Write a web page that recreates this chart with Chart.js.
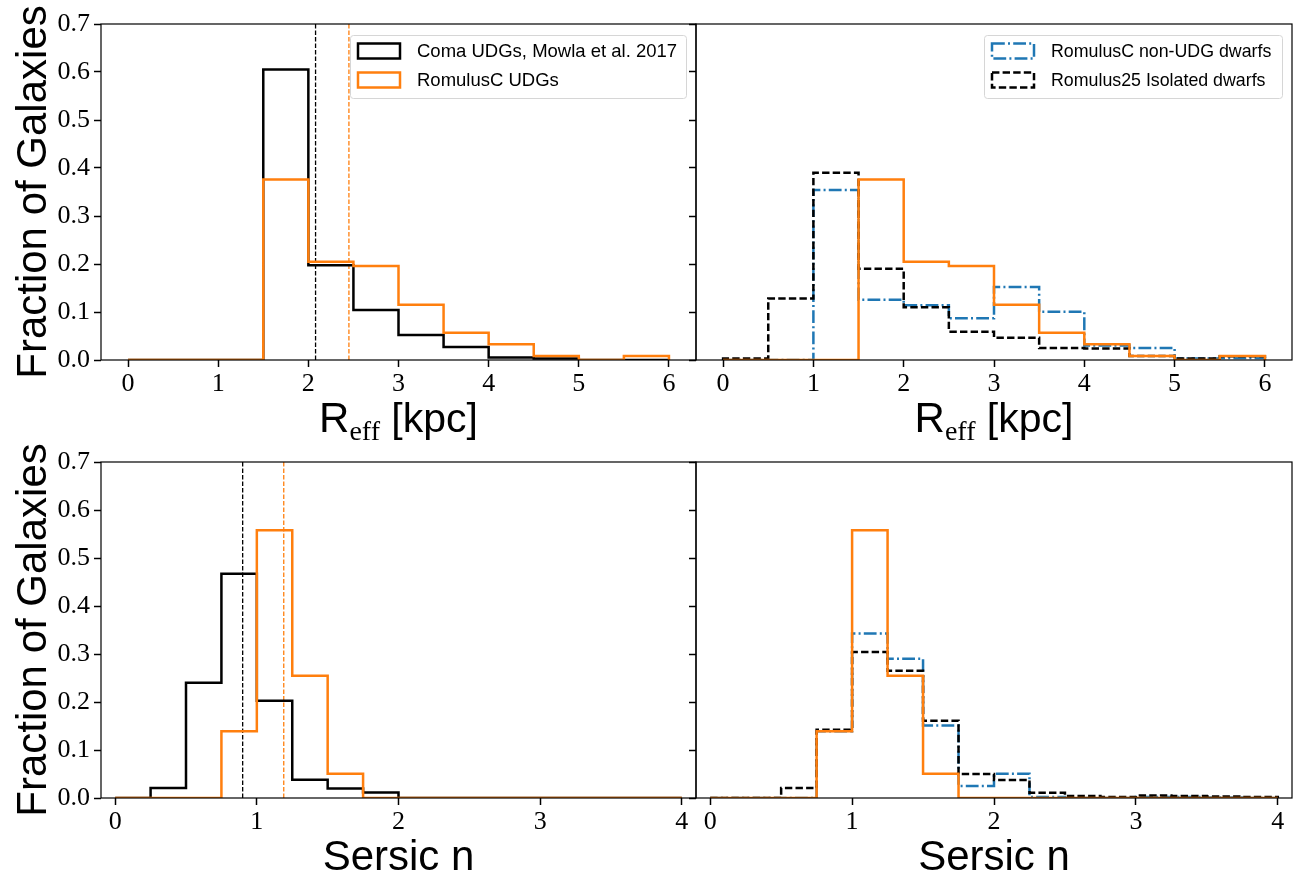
<!DOCTYPE html>
<html>
<head>
<meta charset="utf-8">
<script src="https://cdn.jsdelivr.net/npm/chart.js@4.4.1/dist/chart.umd.min.js"></script>
<style>
    html, body { margin: 0; padding: 0; background: #fff; }
    #wrap { position: relative; width: 1293px; height: 875px; }
    #wrap canvas { position: absolute; left: 0; top: 0; }
</style>
</head>
<body>
<div id="wrap">
    <canvas id="reff-udg" width="1293" height="875"></canvas>
    <canvas id="reff-dwarf" width="1293" height="875"></canvas>
    <canvas id="sersic-udg" width="1293" height="875"></canvas>
    <canvas id="sersic-dwarf" width="1293" height="875"></canvas>
</div>
<script>
// bin edges
const reffEdges = [0, 0.5, 1, 1.5, 2, 2.5, 3, 3.5, 4, 4.5, 5, 5.5, 6];
const sersicEdges = [0, 0.25, 0.5, 0.75, 1, 1.25, 1.5, 1.75, 2, 2.25, 2.5, 2.75, 3, 3.25, 3.5, 3.75, 4];

// fraction of galaxies per bin, R_eff
const comaReff = [0, 0, 0, 0.605, 0.1975, 0.104, 0.052, 0.027, 0.005, 0.003, 0, 0];
const udgReff = [0, 0, 0, 0.376, 0.2045, 0.196, 0.115, 0.057, 0.033, 0.0085, 0, 0.0085];
const dwarfReff = [0, 0, 0.354, 0.1255, 0.114, 0.087, 0.152, 0.1005, 0.03, 0.025, 0.003, 0.004];
const isoReff = [0.003, 0.128, 0.39, 0.19, 0.11, 0.059, 0.0466, 0.025, 0.024, 0.0083, 0.003, 0.008];

// fraction of galaxies per bin, Sersic n
const comaSersic = [0, 0.021, 0.24, 0.467, 0.2025, 0.038, 0.02, 0.0117, 0, 0, 0, 0, 0, 0, 0, 0];
const udgSersic = [0, 0, 0, 0.139, 0.558, 0.2545, 0.0506, 0, 0, 0, 0, 0, 0, 0, 0, 0];
const dwarfSersic = [0, 0, 0, 0.139, 0.3425, 0.29, 0.151, 0.025, 0.0506, 0.002, 0, 0, 0.002, 0.002, 0.001, 0];
const isoSersic = [0, 0, 0.021, 0.142, 0.304, 0.265, 0.161, 0.05, 0.0375, 0.011, 0.004, 0.002, 0.005, 0.004, 0.003, 0.002];

// medians (dashed vertical lines)
const comaReffMedian = 2.08;
const udgReffMedian = 2.45;
const comaSersicMedian = 0.90;
const udgSersicMedian = 1.19;

// ticks
const yTicks = [0, 0.1, 0.2, 0.3, 0.4, 0.5, 0.6, 0.7];
const reffTicks = [0, 1, 2, 3, 4, 5, 6];
const sersicTicks = [0, 1, 2, 3, 4];

const labels = {
    coma: 'Coma UDGs, Mowla et al. 2017',
    udg: 'RomulusC UDGs',
    dwarf: 'RomulusC non-UDG dwarfs',
    iso: 'Romulus25 Isolated dwarfs'
};

const ORANGE = '#ff7f0e';
const BLUE = '#1f77b4';
const SANS = '"Liberation Sans", Arial, sans-serif';
const SERIF = '"Liberation Serif", "Times New Roman", serif';

// outline of a step histogram
function stepPoints(edges, values) {
    const pts = [{x: edges[0], y: 0}];
    values.forEach((v, i) => {
        pts.push({x: edges[i], y: v});
        pts.push({x: edges[i + 1], y: v});
    });
    pts.push({x: edges[edges.length - 1], y: 0});
    return pts;
}

function histSet(label, edges, values, color, dash) {
    return {
        label: label,
        data: stepPoints(edges, values),
        borderColor: color,
        borderWidth: 2.5,
        borderDash: dash || [],
        inLegend: true,
        pointRadius: 0,
        fill: false,
        tension: 0,
        borderJoinStyle: 'miter',
        borderCapStyle: 'butt'
    };
}

function medianSet(x, color) {
    return {
        data: [{x: x, y: 0}, {x: x, y: 0.7}],
        borderColor: color,
        borderWidth: 1.3,
        borderDash: [4.5, 2],
        pointRadius: 0,
        fill: false
    };
}

// frame around each panel
const framePlugin = {
    id: 'frame',
    afterDatasetsDraw(chart) {
        const a = chart.chartArea;
        const ctx = chart.ctx;
        ctx.save();
        ctx.strokeStyle = '#000';
        ctx.lineWidth = 1.2;
        ctx.strokeRect(a.left, a.top, a.right - a.left, a.bottom - a.top);
        ctx.restore();
    }
};

// legend drawn inside the panel
const boxLegendPlugin = {
    id: 'boxLegend',
    afterDraw(chart, args, opts) {
        if (!opts.display) return;
        const ctx = chart.ctx;
        const items = chart.data.datasets.filter(d => d.inLegend);
        const order = opts.order || items.map(d => d.label);
        ctx.save();
        ctx.beginPath();
        ctx.roundRect(opts.left + 0.5, opts.top + 0.5, opts.width, opts.height, 3);
        ctx.fillStyle = 'rgba(255,255,255,0.8)';
        ctx.fill();
        ctx.strokeStyle = '#d6d6d6';
        ctx.lineWidth = 1;
        ctx.stroke();
        order.forEach((lab, i) => {
            const ds = items.find(d => d.label === lab);
            const cy = opts.top + 16 + i * 29;
            ctx.setLineDash(ds.borderDash || []);
            ctx.strokeStyle = ds.borderColor;
            ctx.lineWidth = 2.5;
            ctx.strokeRect(opts.left + 8, cy - 7.5, 42, 15);
            ctx.setLineDash([]);
            ctx.fillStyle = '#000';
            ctx.font = opts.fontSize + 'px ' + SANS;
            ctx.textBaseline = 'middle';
            ctx.textAlign = 'left';
            ctx.fillText(lab, opts.left + 67, cy + 1);
        });
        ctx.restore();
    }
};

// axis titles (x title can mix fonts for the subscript)
const axisTitlePlugin = {
    id: 'axisTitles',
    afterDraw(chart, args, opts) {
        const ctx = chart.ctx;
        const a = chart.chartArea;
        ctx.save();
        ctx.fillStyle = '#000';
        ctx.textBaseline = 'alphabetic';
        if (opts.x) {
            let total = 0;
            opts.x.forEach(p => {
                ctx.font = p.font;
                total += ctx.measureText(p.text).width;
            });
            let x = (a.left + a.right) / 2 - total / 2;
            const base = a.bottom + 72;
            ctx.textAlign = 'left';
            opts.x.forEach(p => {
                ctx.font = p.font;
                ctx.fillText(p.text, x, base + (p.dy || 0));
                x += ctx.measureText(p.text).width;
            });
        }
        if (opts.y) {
            ctx.translate(46, (a.top + a.bottom) / 2);
            ctx.rotate(-Math.PI / 2);
            ctx.font = '42px ' + SANS;
            ctx.textAlign = 'center';
            ctx.fillText(opts.y, 0, 0);
        }
        ctx.restore();
    }
};

const reffTitle = [
    {text: 'R', font: '42px ' + SANS},
    {text: 'eff', font: '28px ' + SERIF, dy: 8},
    {text: ' [kpc]', font: '41px ' + SANS}
];
const sersicTitle = [{text: 'Sersic n', font: '42px ' + SANS}];

function makePanel(id, box, cfg) {
    const tickGrid = {
        drawOnChartArea: false,
        drawTicks: true,
        tickLength: 7,
        tickColor: '#000',
        tickWidth: 1.5
    };
    const yWidth = cfg.yLabels ? box.left : 7;
    const xHeight = cfg.xHeight;
    new Chart(document.getElementById(id), {
        type: 'line',
        data: {datasets: cfg.datasets},
        options: {
            responsive: false,
            animation: false,
            devicePixelRatio: 1,
            layout: {
                padding: {
                    left: box.left - yWidth,
                    top: box.top,
                    right: 1293 - box.right,
                    bottom: 875 - box.bottom - xHeight
                }
            },
            scales: {
                x: {
                    type: 'linear',
                    min: cfg.xMin,
                    max: cfg.xMax,
                    afterBuildTicks: s => { s.ticks = cfg.xTicks.map(v => ({value: v})); },
                    afterFit: s => { s.height = xHeight; },
                    ticks: {
                        font: {family: SERIF, size: 26},
                        color: '#000',
                        padding: 2,
                        maxRotation: 0,
                        callback: v => String(v)
                    },
                    grid: tickGrid,
                    border: {display: false}
                },
                y: {
                    type: 'linear',
                    min: 0,
                    max: 0.7,
                    afterBuildTicks: s => { s.ticks = yTicks.map(v => ({value: v})); },
                    afterFit: s => { s.width = yWidth; },
                    ticks: {
                        display: cfg.yLabels,
                        font: {family: SERIF, size: 26},
                        color: '#000',
                        padding: 4,
                        callback: v => v.toFixed(1)
                    },
                    grid: tickGrid,
                    border: {display: false}
                }
            },
            plugins: {
                legend: {display: false},
                tooltip: {enabled: false},
                boxLegend: cfg.legend || {display: false},
                axisTitles: {x: cfg.xTitle, y: cfg.yLabels ? 'Fraction of Galaxies' : null}
            }
        },
        plugins: [framePlugin, boxLegendPlugin, axisTitlePlugin]
    });
}

const topBoxL = {left: 101, right: 696, top: 24, bottom: 360};
const topBoxR = {left: 696, right: 1292, top: 24, bottom: 360};
const botBoxL = {left: 101, right: 696, top: 462, bottom: 798};
const botBoxR = {left: 696, right: 1292, top: 462, bottom: 798};

makePanel('reff-udg', topBoxL, {
    xMin: -0.3, xMax: 6.3, xTicks: reffTicks, xHeight: 80, yLabels: true, xTitle: reffTitle,
    datasets: [
        histSet(labels.udg, reffEdges, udgReff, ORANGE),
        histSet(labels.coma, reffEdges, comaReff, '#000'),
        medianSet(comaReffMedian, '#000'),
        medianSet(udgReffMedian, ORANGE)
    ],
    legend: {display: true, left: 350, top: 35, width: 336, height: 63, fontSize: 18.5,
             order: [labels.coma, labels.udg]}
});

makePanel('reff-dwarf', topBoxR, {
    xMin: -0.3, xMax: 6.3, xTicks: reffTicks, xHeight: 80, yLabels: false, xTitle: reffTitle,
    datasets: [
        histSet(labels.udg, reffEdges, udgReff, ORANGE),
        histSet(labels.iso, reffEdges, isoReff, '#000', [7.4, 3.2]),
        histSet(labels.dwarf, reffEdges, dwarfReff, BLUE, [12.8, 3.2, 2, 3.2])
    ].map((d, i) => i === 0 ? Object.assign(d, {inLegend: false}) : d),
    legend: {display: true, left: 984, top: 35, width: 298, height: 63, fontSize: 17.8,
             order: [labels.dwarf, labels.iso]}
});

makePanel('sersic-udg', botBoxL, {
    xMin: -0.1, xMax: 4.1, xTicks: sersicTicks, xHeight: 77, yLabels: true, xTitle: sersicTitle,
    datasets: [
        histSet(labels.udg, sersicEdges, udgSersic, ORANGE),
        histSet(labels.coma, sersicEdges, comaSersic, '#000'),
        medianSet(comaSersicMedian, '#000'),
        medianSet(udgSersicMedian, ORANGE)
    ]
});

makePanel('sersic-dwarf', botBoxR, {
    xMin: -0.1, xMax: 4.1, xTicks: sersicTicks, xHeight: 77, yLabels: false, xTitle: sersicTitle,
    datasets: [
        histSet(labels.udg, sersicEdges, udgSersic, ORANGE),
        histSet(labels.iso, sersicEdges, isoSersic, '#000', [7.4, 3.2]),
        histSet(labels.dwarf, sersicEdges, dwarfSersic, BLUE, [12.8, 3.2, 2, 3.2])
    ]
});
</script>
</body>
</html>
